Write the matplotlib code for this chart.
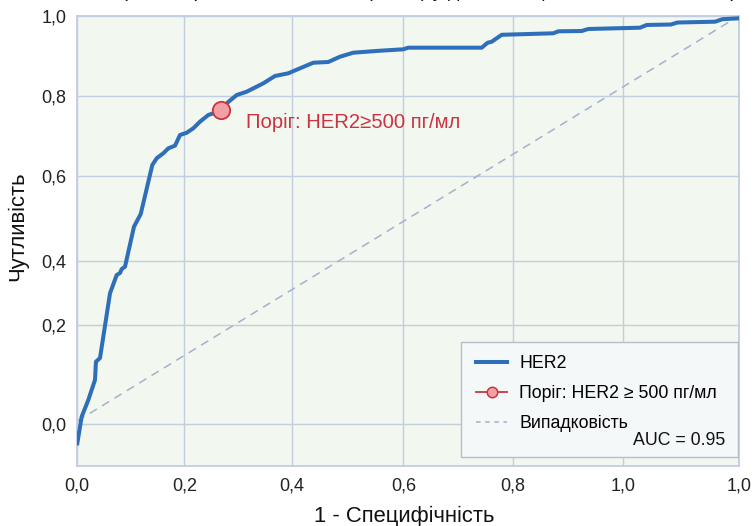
import matplotlib
matplotlib.use("Agg")
import matplotlib.pyplot as plt
from matplotlib.lines import Line2D
from matplotlib.patches import Rectangle

plt.rcParams['font.family'] = ['Liberation Sans', 'DejaVu Sans']

# ROC curve of HER2 (1 - specificity, sensitivity) as drawn
fpr = [0.000, 0.0066, 0.0166, 0.0267, 0.0282, 0.0343, 0.0494, 0.0595, 0.0645,
       0.0671, 0.0721, 0.0856, 0.0958, 0.1133, 0.1199, 0.1299, 0.1375, 0.1476,
       0.1551, 0.1653, 0.1752, 0.1853, 0.1979, 0.2054, 0.2171, 0.2257, 0.2408,
       0.2559, 0.2810, 0.2986, 0.3187, 0.3364, 0.3565, 0.3792, 0.3968, 0.4169,
       0.4573, 0.4924, 0.5000, 0.6109, 0.6196, 0.6260, 0.6411, 0.7190, 0.7266,
       0.7619, 0.7719, 0.8500, 0.8601, 0.8968, 0.9067, 0.9633, 0.9746, 1.000]
tpr = [-0.055, 0.0106, 0.0518, 0.1012, 0.1463, 0.1554, 0.3151, 0.3602, 0.3652,
       0.3750, 0.3807, 0.4794, 0.5107, 0.6316, 0.6482, 0.6605, 0.6728, 0.6793,
       0.7056, 0.7113, 0.7222, 0.7385, 0.7550, 0.7592, 0.7673, 0.7839, 0.8043,
       0.8125, 0.8332, 0.8512, 0.8579, 0.8702, 0.8840, 0.8858, 0.8988, 0.9087,
       0.9136, 0.9171, 0.9211, 0.9211, 0.9331, 0.9358, 0.9529, 0.9566, 0.9615,
       0.9622, 0.9672, 0.9704, 0.9771, 0.9783, 0.9832, 0.9852, 0.9914, 0.9936]

threshold_point = (0.2171, 0.7673)
chance = [0.0, 1.0]

xtick_pos = [0.0, 0.1616, 0.3240, 0.4926, 0.6579, 0.8249, 1.0]
xtick_labels = ['0,0', '0,2', '0,4', '0,6', '0,8', '1,0', '1,0']
ytick_pos = [-0.0081, 0.2369, 0.3955, 0.6052, 0.8026, 1.0]
ytick_labels = ['0,0', '0,2', '0,4', '0,6', '0,8', '1,0']

auc_text = 'AUC = 0.95'

BLUE = '#2f6fba'
RED = '#cc3340'
PINK = '#f2a0a3'
GRID = '#c3cde0'
DIAG = '#a3b2cc'

W, H = 754, 526
fig = plt.figure(figsize=(W / 100, H / 100), dpi=100)
ax = fig.add_axes([77.3 / W, 1 - 466 / H, 662 / W, 450.3 / H])
ax.set_facecolor('#f2f7ef')

ax.plot(chance, chance, color=DIAG, lw=1.1, dashes=(5.5, 4), zorder=2)
ax.plot(fpr, tpr, color=BLUE, lw=2.9, solid_joinstyle='round', zorder=3)
ax.plot([threshold_point[0]], [threshold_point[1]], 'o', ms=12.5,
        mfc=PINK, mec=RED, mew=1.3, zorder=4)
ax.text(0.2548, 0.7217, 'Поріг: HER2≥500 пг/мл', color=RED, fontsize=14.6,
        ha='left', va='baseline', zorder=5)

ax.set_xlim(0, 1)
ax.set_ylim(-0.111, 1.0)
ax.set_xticks(xtick_pos)
ax.set_xticklabels(xtick_labels)
ax.set_yticks(ytick_pos)
ax.set_yticklabels(ytick_labels)
ax.tick_params(length=0, labelsize=13, colors='#222222', pad=8)
ax.grid(True, color=GRID, lw=1.0, zorder=0)
ax.set_axisbelow(True)
for s in ax.spines.values():
    s.set_color(GRID)
    s.set_linewidth(1.3)

fig.text(18 / W, 1 - 226 / H, 'Чутливість', rotation=90, ha='center', va='center',
         fontsize=15.8, color='#111111')
fig.text(404 / W, 1 - 516 / H, '1 - Специфічність', ha='center', va='center',
         fontsize=15.8, color='#111111')
fig.text(452 / W, 1 + 3 / H, 'ROC-крива сироваткового HER2 (пг/мл) у діагностиці HER2-позитивного раку (група)',
         ha='center', va='baseline', fontsize=14, color='#111111')

# legend box
x0 = (460.7 - 77.3) / 662
x1 = (738.3 - 77.3) / 662
y0 = (466 - 456.7) / 450.3
y1 = (466 - 342.3) / 450.3
ax.add_patch(Rectangle((x0, y0), x1 - x0, y1 - y0, transform=ax.transAxes,
                       facecolor='#f4f8f9', edgecolor='#b8bec4', lw=1.0, zorder=6))
handles = [
    Line2D([], [], color=BLUE, lw=2.9),
    Line2D([], [], color=RED, lw=1.3, marker='o', ms=7.5, mfc=PINK, mec=RED, mew=1.1),
    Line2D([], [], color=DIAG, lw=1.1, dashes=(3, 3)),
]
labels = ['HER2', 'Поріг: HER2 ≥ 500 пг/мл', 'Випадковість']
leg = ax.legend(handles, labels, loc='upper left',
                bbox_to_anchor=((476 - 77.3) / 662, (466 - 355.5) / 450.3),
                frameon=False, fontsize=12.8, handlelength=1.75, handletextpad=0.68,
                labelspacing=0.72, borderpad=0, borderaxespad=0)
leg.set_zorder(7)
ax.text((725 - 77.3) / 662, (466 - 445) / 450.3, auc_text, transform=ax.transAxes,
        ha='right', va='baseline', fontsize=12.8, color='#111111', zorder=8)

fig.savefig('out.png', dpi=100)
